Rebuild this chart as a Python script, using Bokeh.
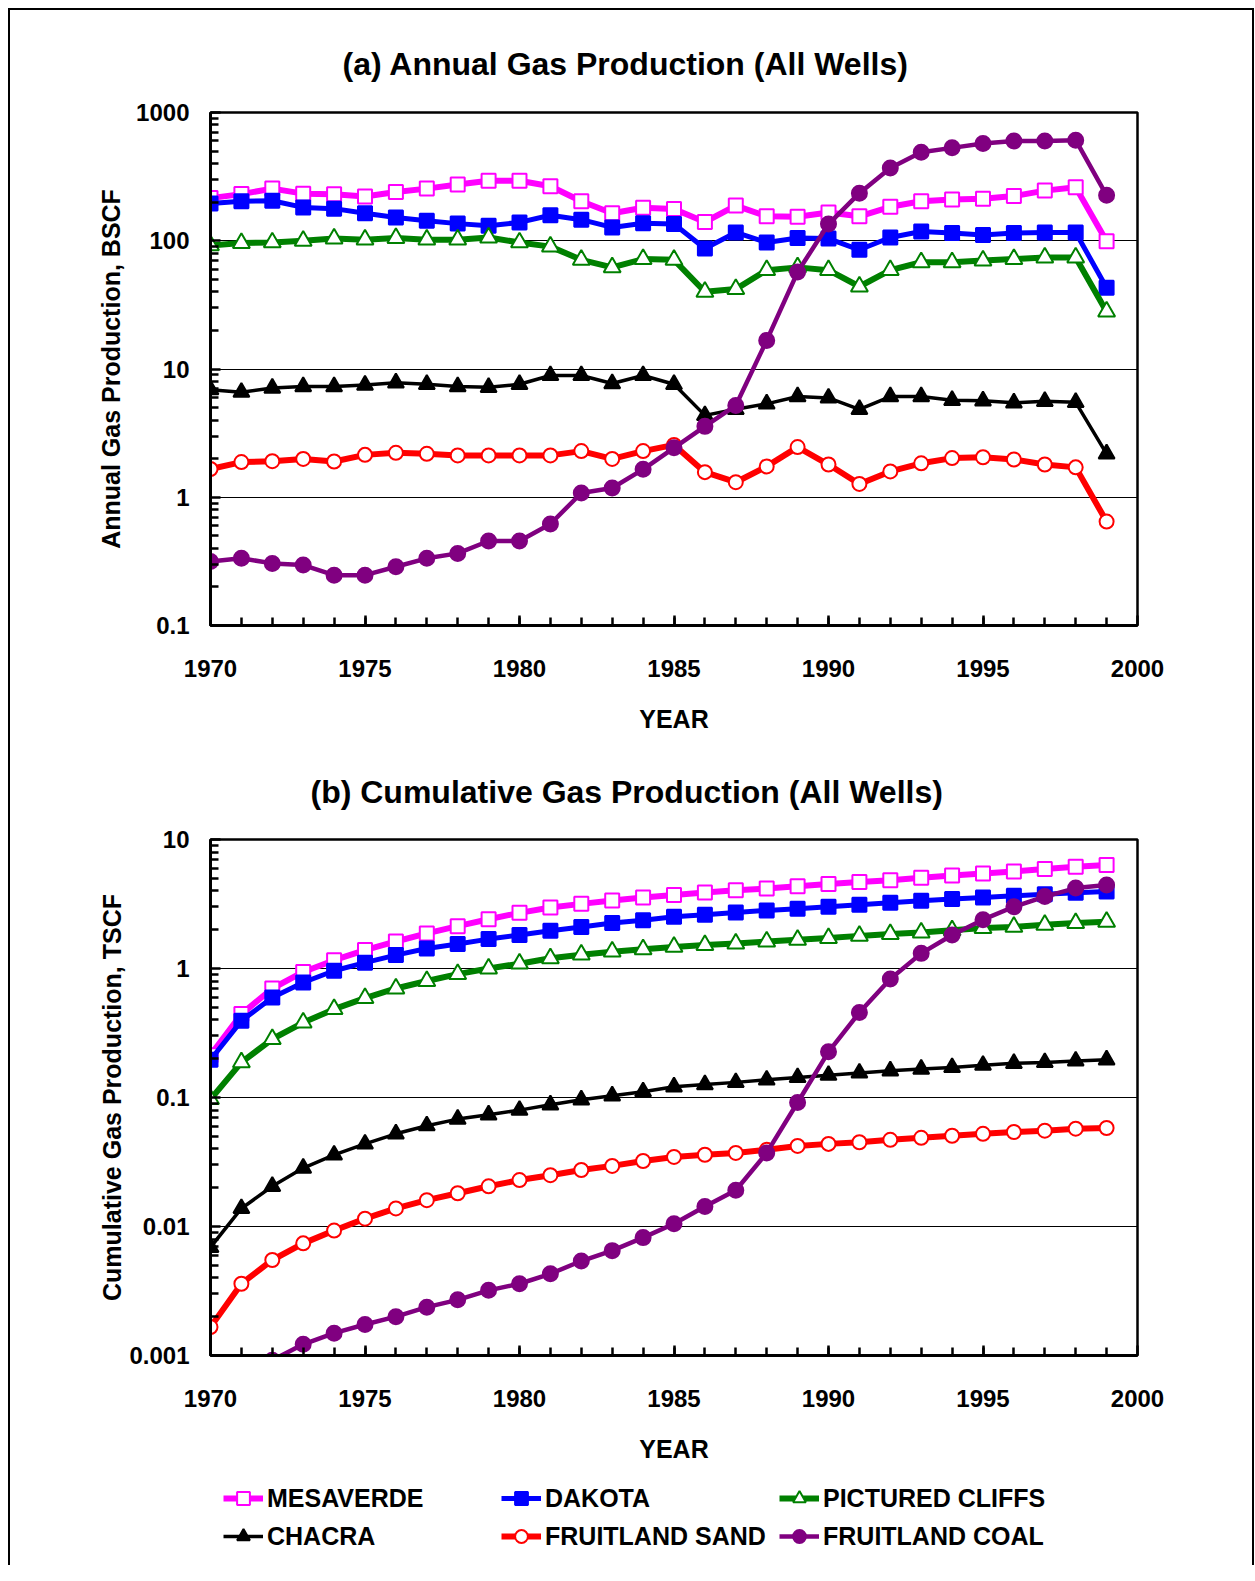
from bokeh.plotting import figure
from bokeh.models import FixedTicker, CustomJSTickFormatter, Legend, LegendItem, Range1d
from bokeh.layouts import column
from bokeh.embed import file_html
from bokeh.resources import INLINE

# ---------------- data ----------------
years = list(range(1970, 2000))
x_ticks = [1970, 1975, 1980, 1985, 1990, 1995, 2000]

series_names = ["MESAVERDE", "DAKOTA", "PICTURED CLIFFS", "CHACRA", "FRUITLAND SAND", "FRUITLAND COAL"]

# (a) annual gas production, BSCF
mesaverde_annual = [215, 231, 255, 233, 230, 221, 240, 255, 275, 294, 294, 266, 203, 164, 181,
                    177, 140, 188, 155, 154, 166, 155, 184, 203, 210, 213, 223, 246, 261, 99]
dakota_annual = [195, 203, 205, 182, 178, 164, 152, 143, 136, 131, 139, 158, 146, 127, 137,
                 135, 87, 116, 97, 105, 104, 85, 106, 118, 115, 111, 115, 116, 116, 43]
pictured_annual = [92, 96, 97, 100, 104, 102, 105, 102, 102, 106, 97, 90, 71, 62, 72,
                   71, 40, 42, 59, 62, 59, 44, 59, 68, 68, 70, 72, 74, 74, 28]
chacra_annual = [6.9, 6.6, 7.1, 7.3, 7.3, 7.5, 7.8, 7.6, 7.3, 7.2, 7.6, 8.9, 8.9, 7.7, 8.9,
                 7.6, 4.35, 4.85, 5.35, 6.1, 5.95, 4.85, 6.1, 6.1, 5.7, 5.65, 5.45, 5.6, 5.5, 2.18]
sand_annual = [1.66, 1.88, 1.91, 1.99, 1.90, 2.14, 2.22, 2.18, 2.12, 2.12, 2.12, 2.12, 2.29, 1.99, 2.29,
               2.56, 1.57, 1.31, 1.74, 2.46, 1.80, 1.27, 1.59, 1.84, 2.02, 2.05, 1.97, 1.80, 1.71, 0.646]
coal_annual = [0.315, 0.334, 0.305, 0.296, 0.247, 0.247, 0.287, 0.334, 0.365, 0.456, 0.456, 0.619, 1.08, 1.18, 1.65,
               2.43, 3.57, 5.2, 16.7, 57, 135, 235, 369, 490, 530, 573, 600, 600, 608, 226]
annual_ticks = [0.1, 1, 10, 100, 1000]

# (b) cumulative gas production, TSCF
mesaverde_cum = [0.213, 0.443, 0.70, 0.94, 1.16, 1.39, 1.62, 1.87, 2.13, 2.41, 2.70, 2.97, 3.17, 3.37, 3.55,
                 3.71, 3.88, 4.05, 4.17, 4.35, 4.51, 4.68, 4.84, 5.05, 5.26, 5.45, 5.65, 5.90, 6.14, 6.33]
dakota_cum = [0.196, 0.393, 0.596, 0.779, 0.96, 1.11, 1.27, 1.43, 1.55, 1.69, 1.82, 1.96, 2.10, 2.25, 2.37,
              2.52, 2.61, 2.72, 2.82, 2.90, 3.01, 3.12, 3.23, 3.35, 3.45, 3.55, 3.66, 3.77, 3.86, 3.95]
pictured_cum = [0.097, 0.187, 0.284, 0.381, 0.484, 0.59, 0.70, 0.80, 0.905, 1.0, 1.09, 1.20, 1.28, 1.35, 1.41,
                1.47, 1.52, 1.56, 1.62, 1.67, 1.72, 1.79, 1.85, 1.90, 1.98, 2.06, 2.10, 2.18, 2.25, 2.30]
chacra_cum = [0.0069, 0.0138, 0.0205, 0.0284, 0.0359, 0.0437, 0.0523, 0.0604, 0.068, 0.0734, 0.0798, 0.0878, 0.096, 0.103, 0.111,
              0.121, 0.126, 0.131, 0.137, 0.143, 0.149, 0.155, 0.161, 0.166, 0.171, 0.178, 0.184, 0.187, 0.192, 0.196]
sand_cum = [0.00166, 0.0036, 0.0055, 0.0074, 0.0093, 0.0115, 0.0138, 0.016, 0.0181, 0.0205, 0.0229, 0.025, 0.0274, 0.0295, 0.0322,
            0.0346, 0.036, 0.0372, 0.0393, 0.0421, 0.0437, 0.045, 0.047, 0.0487, 0.0505, 0.0523, 0.054, 0.0553, 0.0573, 0.058]
coal_cum = [0.0003, 0.00065, 0.00092, 0.00122, 0.00149, 0.00174, 0.002, 0.00237, 0.0027, 0.0032, 0.0036, 0.0043, 0.0054, 0.0065, 0.0082,
            0.0105, 0.0143, 0.0191, 0.0372, 0.0915, 0.226, 0.456, 0.828, 1.31, 1.82, 2.39, 3.01, 3.61, 4.2, 4.43]
cum_ticks = [0.001, 0.01, 0.1, 1, 10]

# ---------------- styles ----------------
FONT = "Liberation Sans"
styles = [
    # color, line width, marker, size, fill
    ("#FF00FF", 6, "square", 14, "white"),
    ("#0000FF", 5, "square", 14, "#0000FF"),
    ("#008000", 6, "triangle", 17, "white"),
    ("#000000", 3.5, "triangle", 16, "#000000"),
    ("#FF0000", 6, "circle", 14, "white"),
    ("#800080", 4.5, "circle", 15, "#800080"),
]


def minor_log(ticks):
    out = []
    for t in ticks[:-1]:
        out += [t * k for k in range(2, 10)]
    return out


def make_fig(title, ylabel, yticks, series, height, mb_top, mb_left, mb_right, mb_bottom,
             title_offset, title_standoff, ylab_standoff):
    p = figure(width=1242, height=height, y_axis_type="log",
               x_range=(x_ticks[0], x_ticks[-1]), y_range=(yticks[0], yticks[-1]),
               output_backend="svg", toolbar_location=None,
               min_border_top=mb_top, min_border_left=mb_left,
               min_border_right=mb_right, min_border_bottom=mb_bottom)
    p.title.text = title
    p.title.align = "left"
    p.title.offset = title_offset
    p.title.text_font = FONT
    p.title.text_font_style = "bold"
    p.title.text_font_size = "32px"
    p.title.text_color = "black"
    p.title.standoff = title_standoff
    p.background_fill_color = "white"
    p.border_fill_color = "white"
    p.outline_line_color = "black"
    p.outline_line_width = 2.5

    p.xgrid.grid_line_color = None
    p.ygrid.grid_line_color = "black"
    p.ygrid.grid_line_width = 1.2

    p.xaxis.ticker = FixedTicker(ticks=x_ticks, minor_ticks=years)
    p.yaxis.ticker = FixedTicker(ticks=yticks, minor_ticks=minor_log(yticks))
    p.yaxis.formatter = CustomJSTickFormatter(code="return String(tick);")

    for ax in (p.xaxis[0], p.yaxis[0]):
        ax.axis_line_width = 3
        ax.axis_line_color = "black"
        ax.major_tick_in = 10
        ax.major_tick_out = 0
        ax.minor_tick_in = 8
        ax.minor_tick_out = 0
        ax.major_tick_line_width = 2.5
        ax.minor_tick_line_width = 2.5
        ax.major_tick_line_color = "black"
        ax.minor_tick_line_color = "black"
        ax.major_label_text_font = FONT
        ax.major_label_text_font_style = "bold"
        ax.major_label_text_font_size = "24px"
        ax.major_label_text_color = "black"
        ax.axis_label_text_font = FONT
        ax.axis_label_text_font_style = "bold"
        ax.axis_label_text_font_size = "25px"
        ax.axis_label_text_color = "black"
    p.xaxis.axis_label = "YEAR"
    p.yaxis.axis_label = ylabel
    p.xaxis.major_label_standoff = 34
    p.xaxis.axis_label_standoff = 25
    p.yaxis.major_label_standoff = 21
    p.yaxis.axis_label_standoff = ylab_standoff

    for vals, (c, lw, mk, sz, fill) in zip(series, styles):
        p.line(years, vals, line_color=c, line_width=lw)
        p.scatter(years, vals, marker=mk, size=sz, line_color=c, fill_color=fill, line_width=2)
    return p


annual_series = [mesaverde_annual, dakota_annual, pictured_annual, chacra_annual, sand_annual, coal_annual]
cum_series = [mesaverde_cum, dakota_cum, pictured_cum, chacra_cum, sand_cum, coal_cum]

p1 = make_fig("(a) Annual Gas Production (All Wells)", "Annual Gas Production, BSCF", annual_ticks,
              annual_series,
              height=731, mb_top=102, mb_left=197, mb_right=115, mb_bottom=116,
              title_offset=132, title_standoff=62, ylab_standoff=8)
p2 = make_fig("(b) Cumulative Gas Production (All Wells)", "Cumulative Gas Production, TSCF", cum_ticks,
              cum_series,
              height=724, mb_top=98, mb_left=200, mb_right=115, mb_bottom=110,
              title_offset=100, title_standoff=60, ylab_standoff=0)

# legend strip: its own small canvas; its key renderers lie outside its (empty) view range
p3 = figure(width=1242, height=100, x_axis_type=None, y_axis_type=None,
            x_range=Range1d(0, 1), y_range=Range1d(0, 1),
            output_backend="svg", toolbar_location=None,
            min_border_top=0, min_border_left=0, min_border_right=0, min_border_bottom=0)
p3.outline_line_color = None
p3.background_fill_color = "white"
p3.border_fill_color = "white"
items = []
for name, vals, (c, lw, mk, sz, fill) in zip(series_names, cum_series, styles):
    lr = p3.line(years, vals, line_color=c, line_width=lw)
    sr = p3.scatter(years, vals, marker=mk, size=sz, line_color=c, fill_color=fill, line_width=2)
    items.append(LegendItem(label=name, renderers=[lr, sr]))

legend = Legend(items=items, orientation="horizontal", ncols=3, location=(13, 13),
                glyph_width=40, glyph_height=32, label_width=228, label_height=30,
                spacing=6, padding=12, margin=0, label_standoff=4,
                border_line_color=None, background_fill_alpha=0,
                label_text_font=FONT, label_text_font_style="bold",
                label_text_font_size="25px", label_text_color="black")
p3.add_layout(legend, "center")

layout = column(p1, p2, p3, styles={"border": "2px solid black", "border-bottom": "none",
                                    "margin-left": "8px", "margin-top": "8px"})

open("out.html", "w").write(file_html(layout, INLINE))
